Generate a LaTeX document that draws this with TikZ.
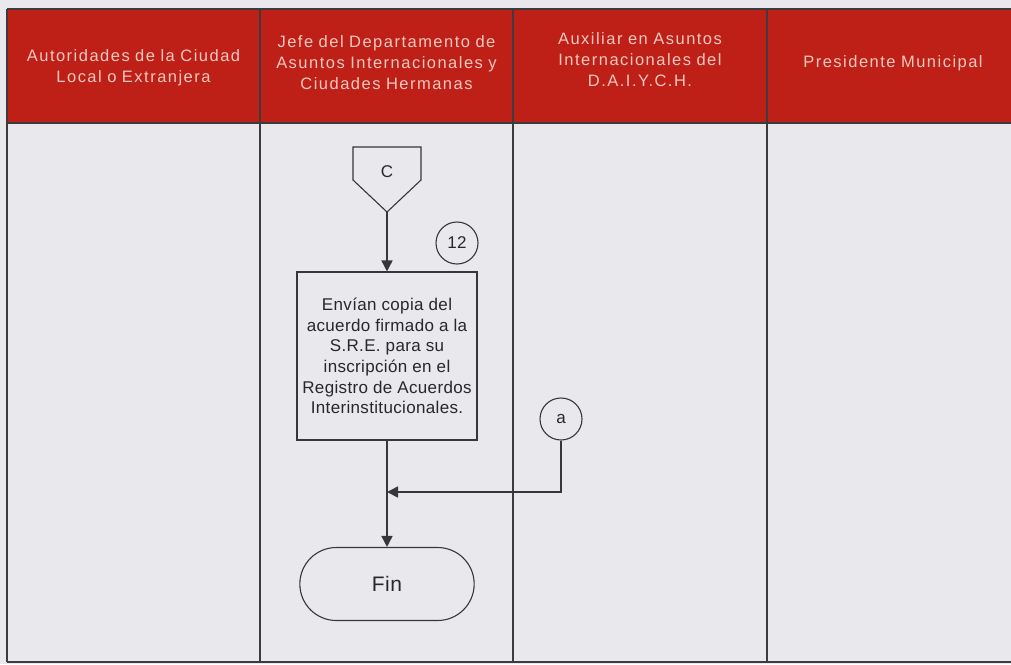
\documentclass[tikz,border=0pt]{standalone}
\usepackage{fontspec}
\setmainfont{Liberation Sans}
\newfontfamily\headfont[LetterSpace=9]{Liberation Sans}
\newfontfamily\bodyfont[LetterSpace=2]{Liberation Sans}
\usetikzlibrary{arrows.meta,shapes.misc}
\definecolor{pagebg}{RGB}{232,232,237}
\definecolor{headred}{RGB}{190,32,24}
\definecolor{headtext}{RGB}{242,200,190}
\definecolor{rulecol}{RGB}{60,60,62}
\definecolor{flowcol}{RGB}{55,55,58}
\definecolor{inkcol}{RGB}{40,40,42}
\tikzset{
  lanerule/.style={draw=rulecol,line width=1.6pt},
  headlabel/.style={text=headtext,font=\headfont\fontsize{16.5}{21}\selectfont,align=center,text width=245pt},
  shapeline/.style={draw=flowcol,line width=1.1pt},
  flowtext/.style={text=inkcol,font=\bodyfont\fontsize{17}{20.6}\selectfont,align=center},
  flowarrow/.style={draw=flowcol,line width=1.6pt,-{Triangle[length=11pt,width=11pt]}},
  procbox/.style={shapeline,rectangle,minimum width=180pt,minimum height=168pt,inner sep=0pt},
  endbox/.style={shapeline,rounded rectangle,minimum width=181pt,minimum height=73pt},
  stepnum/.style={shapeline,circle,minimum size=42pt,inner sep=0pt,flowtext}
}
\begin{document}
\begin{tikzpicture}[x=1pt,y=-1pt]
\useasboundingbox (0,0) rectangle (1011,664);
\fill[pagebg] (0,0) rectangle (1011,664);
% header band
\fill[headred] (7,9) rectangle (1020,123);
% lane rules
\draw[lanerule] (7,9) -- (1020,9);
\draw[lanerule] (7,123) -- (1020,123);
\draw[lanerule] (7,662) -- (1020,662);
\draw[lanerule] (7,9) -- (7,662);
\foreach \xx in {260,513,767} \draw[lanerule] (\xx,9) -- (\xx,662);
% lane titles
\node[headlabel] (h1) at (133.5,68) {Autoridades de la Ciudad\\Local o Extranjera};
\node[headlabel] (h2) at (386.5,63) {Jefe del Departamento de\\Asuntos Internacionales y\\Ciudades Hermanas};
\node[headlabel] (h3) at (640,60) {Auxiliar en Asuntos\\Internacionales del\\D.A.I.Y.C.H.};
\node[headlabel] (h4) at (893,63) {Presidente Municipal};
% off-page connector C
\draw[shapeline] (353,147) -- (421,147) -- (421,180) -- (387,212) -- (353,180) -- cycle;
\node[flowtext] (C) at (387,172) {C};
\coordinate (Ctip) at (387,212);
% step 12
\node[procbox,flowtext] (p12) at (387,356) {Envían copia del\\acuerdo firmado a la\\S.R.E. para su\\inscripción en el\\Registro de Acuerdos\\Interinstitucionales.};
\node[stepnum] (n12) at (457,243) {12};
% connector a
\node[stepnum] (a) at (561,419) {a};
% end
\node[endbox,flowtext,font=\bodyfont\fontsize{21}{24}\selectfont] (fin) at (387,584) {Fin};
% flow
\draw[flowarrow] (Ctip) -- (p12.north);
\draw[flowarrow] (p12.south) -- (fin.north);
\coordinate (aturn) at (a.south |- 0,492);
\coordinate (join) at (p12.south |- 0,492);
\draw[flowarrow] (a.south) -- (aturn) -- (join);
\end{tikzpicture}
\end{document}
